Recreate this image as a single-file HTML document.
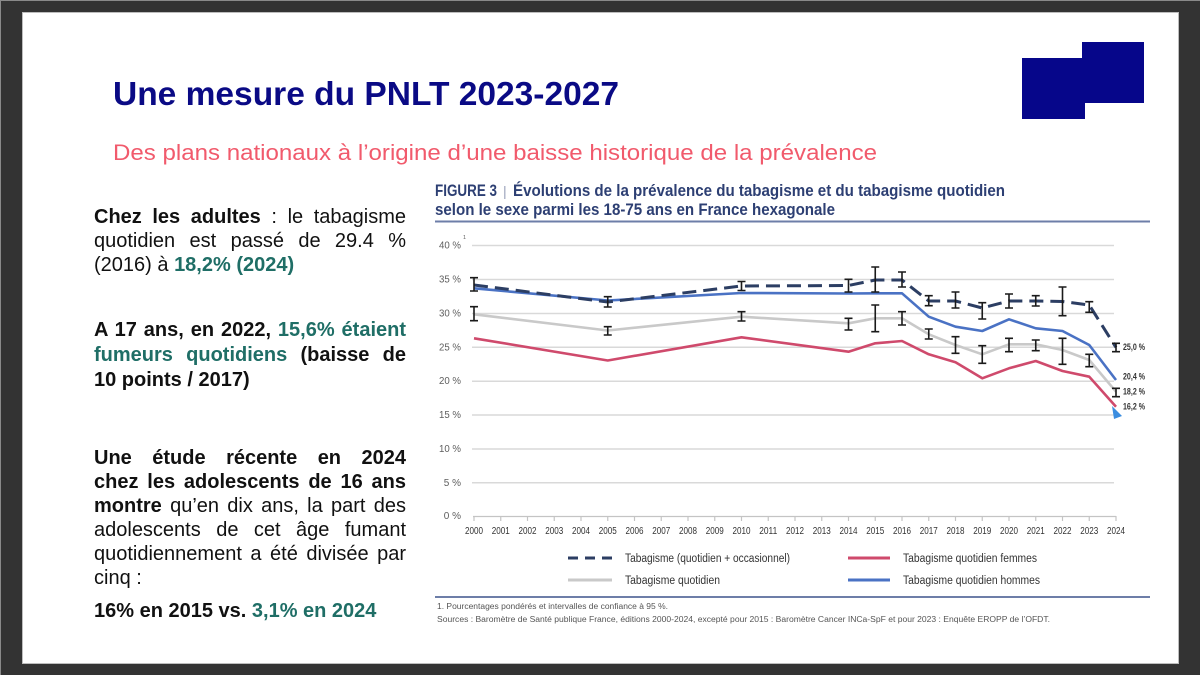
<!DOCTYPE html>
<html><head><meta charset="utf-8"><style>
html,body{margin:0;padding:0;}
body{width:1200px;height:675px;background:#333333;position:relative;overflow:hidden;font-family:"Liberation Sans",Arial,sans-serif;}
.slide{position:absolute;left:23px;top:13px;width:1155px;height:650px;background:#fff;box-shadow:0 0 0 1px #bdbdbd;}
.ln{position:absolute;left:94px;width:312px;font-size:20px;line-height:24px;color:#111;white-space:nowrap;}
.j{text-align:justify;text-align-last:justify;white-space:normal;}
b{font-weight:bold;}
.t{color:#1f6e66;font-weight:bold;}
svg{position:absolute;left:0;top:0;}
</style></head><body>
<div class="slide"></div>
<svg width="1200" height="675" viewBox="0 0 1200 675" xmlns="http://www.w3.org/2000/svg" font-family="Liberation Sans, Arial, sans-serif">
<line x1="0" y1="0.5" x2="1200" y2="0.5" stroke="#8a8a8a" stroke-width="1"/>
<line x1="0.5" y1="0" x2="0.5" y2="675" stroke="#8a8a8a" stroke-width="1"/>
<!-- logo -->
<rect x="1022" y="58" width="63" height="61" fill="#06068a"/>
<rect x="1082" y="42" width="62" height="61" fill="#06068a"/>
<!-- title -->
<text x="113" y="105" font-size="33.5" font-weight="bold" fill="#0a0a85" textLength="506" lengthAdjust="spacingAndGlyphs">Une mesure du PNLT 2023-2027</text>
<text x="113" y="160" font-size="22" fill="#f15a6c" textLength="764" lengthAdjust="spacingAndGlyphs">Des plans nationaux à l’origine d’une baisse historique de la prévalence</text>

<!-- chart title -->
<text x="435" y="196" font-size="16.5" font-weight="bold" fill="#2d3f73" textLength="62" lengthAdjust="spacingAndGlyphs">FIGURE 3</text>
<text x="503" y="196" font-size="14" fill="#9aa3bb">|</text>
<text x="513" y="196" font-size="16.5" font-weight="bold" fill="#2d3f73" textLength="492" lengthAdjust="spacingAndGlyphs">Évolutions de la prévalence du tabagisme et du tabagisme quotidien</text>
<text x="435" y="215" font-size="16.5" font-weight="bold" fill="#2d3f73" textLength="400" lengthAdjust="spacingAndGlyphs">selon le sexe parmi les 18-75 ans en France hexagonale</text>
<line x1="435" y1="221.5" x2="1150" y2="221.5" stroke="#6d7ea8" stroke-width="2"/>

<!-- gridlines -->
<g stroke="#d9d9d9" stroke-width="1.5">
<line x1="472" y1="245.5" x2="1114" y2="245.5"/>
<line x1="472" y1="279.5" x2="1114" y2="279.5"/>
<line x1="472" y1="313.5" x2="1114" y2="313.5"/>
<line x1="472" y1="347.3" x2="1114" y2="347.3"/>
<line x1="472" y1="381.2" x2="1114" y2="381.2"/>
<line x1="472" y1="415" x2="1114" y2="415"/>
<line x1="472" y1="449" x2="1114" y2="449"/>
<line x1="472" y1="482.8" x2="1114" y2="482.8"/>
</g>
<!-- x axis -->
<g stroke="#c4c4c4" stroke-width="1.2">
<line x1="473" y1="516.5" x2="1116" y2="516.5"/>
<line x1="474" y1="516" x2="474" y2="521"/><line x1="500.75" y1="516" x2="500.75" y2="521"/><line x1="527.5" y1="516" x2="527.5" y2="521"/><line x1="554.25" y1="516" x2="554.25" y2="521"/><line x1="581" y1="516" x2="581" y2="521"/><line x1="607.75" y1="516" x2="607.75" y2="521"/><line x1="634.5" y1="516" x2="634.5" y2="521"/><line x1="661.25" y1="516" x2="661.25" y2="521"/><line x1="688" y1="516" x2="688" y2="521"/><line x1="714.75" y1="516" x2="714.75" y2="521"/><line x1="741.5" y1="516" x2="741.5" y2="521"/><line x1="768.25" y1="516" x2="768.25" y2="521"/><line x1="795" y1="516" x2="795" y2="521"/><line x1="821.75" y1="516" x2="821.75" y2="521"/><line x1="848.5" y1="516" x2="848.5" y2="521"/><line x1="875.25" y1="516" x2="875.25" y2="521"/><line x1="902" y1="516" x2="902" y2="521"/><line x1="928.75" y1="516" x2="928.75" y2="521"/><line x1="955.5" y1="516" x2="955.5" y2="521"/><line x1="982.25" y1="516" x2="982.25" y2="521"/><line x1="1009" y1="516" x2="1009" y2="521"/><line x1="1035.75" y1="516" x2="1035.75" y2="521"/><line x1="1062.5" y1="516" x2="1062.5" y2="521"/><line x1="1089.25" y1="516" x2="1089.25" y2="521"/><line x1="1116" y1="516" x2="1116" y2="521"/>
</g>
<!-- y labels -->
<g font-size="10" fill="#5e5e5e" text-anchor="end">
<text x="461" y="248.5" textLength="22" lengthAdjust="spacingAndGlyphs">40 %</text>
<text x="461" y="282.5" textLength="22" lengthAdjust="spacingAndGlyphs">35 %</text>
<text x="461" y="316.5" textLength="22" lengthAdjust="spacingAndGlyphs">30 %</text>
<text x="461" y="350.3" textLength="22" lengthAdjust="spacingAndGlyphs">25 %</text>
<text x="461" y="384.2" textLength="22" lengthAdjust="spacingAndGlyphs">20 %</text>
<text x="461" y="418" textLength="22" lengthAdjust="spacingAndGlyphs">15 %</text>
<text x="461" y="452" textLength="22" lengthAdjust="spacingAndGlyphs">10 %</text>
<text x="461" y="485.8">5 %</text>
<text x="461" y="519">0 %</text>
</g>
<text x="463" y="239" font-size="5.5" fill="#5e5e5e">1</text>
<!-- x labels -->
<g font-size="10" fill="#333" text-anchor="middle">
<text x="474" y="534" textLength="18" lengthAdjust="spacingAndGlyphs">2000</text><text x="500.75" y="534" textLength="18" lengthAdjust="spacingAndGlyphs">2001</text><text x="527.5" y="534" textLength="18" lengthAdjust="spacingAndGlyphs">2002</text><text x="554.25" y="534" textLength="18" lengthAdjust="spacingAndGlyphs">2003</text><text x="581" y="534" textLength="18" lengthAdjust="spacingAndGlyphs">2004</text><text x="607.75" y="534" textLength="18" lengthAdjust="spacingAndGlyphs">2005</text><text x="634.5" y="534" textLength="18" lengthAdjust="spacingAndGlyphs">2006</text><text x="661.25" y="534" textLength="18" lengthAdjust="spacingAndGlyphs">2007</text><text x="688" y="534" textLength="18" lengthAdjust="spacingAndGlyphs">2008</text><text x="714.75" y="534" textLength="18" lengthAdjust="spacingAndGlyphs">2009</text><text x="741.5" y="534" textLength="18" lengthAdjust="spacingAndGlyphs">2010</text><text x="768.25" y="534" textLength="18" lengthAdjust="spacingAndGlyphs">2011</text><text x="795" y="534" textLength="18" lengthAdjust="spacingAndGlyphs">2012</text><text x="821.75" y="534" textLength="18" lengthAdjust="spacingAndGlyphs">2013</text><text x="848.5" y="534" textLength="18" lengthAdjust="spacingAndGlyphs">2014</text><text x="875.25" y="534" textLength="18" lengthAdjust="spacingAndGlyphs">2015</text><text x="902" y="534" textLength="18" lengthAdjust="spacingAndGlyphs">2016</text><text x="928.75" y="534" textLength="18" lengthAdjust="spacingAndGlyphs">2017</text><text x="955.5" y="534" textLength="18" lengthAdjust="spacingAndGlyphs">2018</text><text x="982.25" y="534" textLength="18" lengthAdjust="spacingAndGlyphs">2019</text><text x="1009" y="534" textLength="18" lengthAdjust="spacingAndGlyphs">2020</text><text x="1035.75" y="534" textLength="18" lengthAdjust="spacingAndGlyphs">2021</text><text x="1062.5" y="534" textLength="18" lengthAdjust="spacingAndGlyphs">2022</text><text x="1089.25" y="534" textLength="18" lengthAdjust="spacingAndGlyphs">2023</text><text x="1116" y="534" textLength="18" lengthAdjust="spacingAndGlyphs">2024</text>
</g>

<!-- series -->
<g fill="none" stroke-linejoin="round" stroke-width="2.6">
<polyline stroke="#c9c9c9" points="474,314.3 607.75,330.5 741.5,316.7 848.5,323.3 875.25,318.3 902,318.3 928.75,334.3 955.5,345 982.25,354.3 1009,344.3 1035.75,344.3 1062.5,350 1089.25,360 1116,391.7"/>
<polyline stroke="#cf4a6c" points="474,338.3 607.75,360.5 741.5,337.3 848.5,351.7 875.25,343.3 902,341 928.75,354.3 955.5,362.3 982.25,378.3 1009,368.3 1035.75,361 1062.5,371 1089.25,376.7 1116,406.7"/>
<polyline stroke="#4a72c4" points="474,288.3 607.75,300.5 741.5,293 848.5,293.5 875.25,293.3 902,293.3 928.75,316.7 955.5,326.7 982.25,331 1009,319.3 1035.75,328.3 1062.5,331 1089.25,345 1116,380"/>
<polyline stroke="#2c3e63" stroke-width="3" stroke-dasharray="14 7" points="474,285 607.75,302 741.5,286 848.5,285.5 875.25,280 902,280 928.75,301 955.5,301 982.25,308 1009,301 1035.75,301 1062.5,301.5 1089.25,305 1116,347.5"/>
</g>

<!-- error bars -->
<g stroke="#1a1a1a" stroke-width="1.6" fill="none">
<path d="M474 277.7V291M470 277.7H478M470 291H478"/>
<path d="M607.75 296.7V307M603.75 296.7H611.75M603.75 307H611.75"/>
<path d="M741.5 281.5V290.5M737.5 281.5H745.5M737.5 290.5H745.5"/>
<path d="M848.5 279.3V292M844.5 279.3H852.5M844.5 292H852.5"/>
<path d="M875.25 267V292M871.25 267H879.25M871.25 292H879.25"/>
<path d="M902 272V287M898 272H906M898 287H906"/>
<path d="M928.75 295.7V305.7M924.75 295.7H932.75M924.75 305.7H932.75"/>
<path d="M955.5 292V308M951.5 292H959.5M951.5 308H959.5"/>
<path d="M982.25 302.7V319M978.25 302.7H986.25M978.25 319H986.25"/>
<path d="M1009 294V308M1005 294H1013M1005 308H1013"/>
<path d="M1035.75 295.7V306M1031.75 295.7H1039.75M1031.75 306H1039.75"/>
<path d="M1062.5 287V315.7M1058.5 287H1066.5M1058.5 315.7H1066.5"/>
<path d="M1089.25 301.7V312.3M1085.25 301.7H1093.25M1085.25 312.3H1093.25"/>
<path d="M1116 343.3V351.7M1112 343.3H1120M1112 351.7H1120"/>
<path d="M474 306.7V320.7M470 306.7H478M470 320.7H478"/>
<path d="M607.75 326.7V335M603.75 326.7H611.75M603.75 335H611.75"/>
<path d="M741.5 311.7V321M737.5 311.7H745.5M737.5 321H745.5"/>
<path d="M848.5 318.3V330M844.5 318.3H852.5M844.5 330H852.5"/>
<path d="M875.25 305V331.7M871.25 305H879.25M871.25 331.7H879.25"/>
<path d="M902 311.7V325M898 311.7H906M898 325H906"/>
<path d="M928.75 329V339M924.75 329H932.75M924.75 339H932.75"/>
<path d="M955.5 336.7V353.3M951.5 336.7H959.5M951.5 353.3H959.5"/>
<path d="M982.25 345.7V363.3M978.25 345.7H986.25M978.25 363.3H986.25"/>
<path d="M1009 338.3V351.7M1005 338.3H1013M1005 351.7H1013"/>
<path d="M1035.75 340V350.7M1031.75 340H1039.75M1031.75 350.7H1039.75"/>
<path d="M1062.5 338.3V364.3M1058.5 338.3H1066.5M1058.5 364.3H1066.5"/>
<path d="M1089.25 354.3V366.7M1085.25 354.3H1093.25M1085.25 366.7H1093.25"/>
<path d="M1116 388.3V396.7M1112 388.3H1120M1112 396.7H1120"/>
</g>

<!-- end labels -->
<g font-size="9" font-weight="bold" fill="#333">
<text x="1123" y="350" textLength="22" lengthAdjust="spacingAndGlyphs">25,0 %</text>
<text x="1123" y="379.5" textLength="22" lengthAdjust="spacingAndGlyphs">20,4 %</text>
<text x="1123" y="394.5" textLength="22" lengthAdjust="spacingAndGlyphs">18,2 %</text>
<text x="1123" y="409.5" textLength="22" lengthAdjust="spacingAndGlyphs">16,2 %</text>
</g>
<polygon points="1112,406 1122,416 1114,419" fill="#3b8de0"/>

<!-- legend -->
<g stroke-width="3">
<line x1="568" y1="558" x2="612" y2="558" stroke="#2c3e63" stroke-dasharray="10 7"/>
<line x1="848" y1="558" x2="890" y2="558" stroke="#cf4a6c"/>
<line x1="568" y1="580" x2="612" y2="580" stroke="#c9c9c9"/>
<line x1="848" y1="580" x2="890" y2="580" stroke="#4a72c4"/>
</g>
<g font-size="11.5" fill="#333">
<text x="625" y="562" textLength="165" lengthAdjust="spacingAndGlyphs">Tabagisme (quotidien + occasionnel)</text>
<text x="903" y="562" textLength="134" lengthAdjust="spacingAndGlyphs">Tabagisme quotidien femmes</text>
<text x="625" y="584" textLength="95" lengthAdjust="spacingAndGlyphs">Tabagisme quotidien</text>
<text x="903" y="584" textLength="137" lengthAdjust="spacingAndGlyphs">Tabagisme quotidien hommes</text>
</g>
<line x1="435" y1="597" x2="1150" y2="597" stroke="#6d7ea8" stroke-width="2"/>
<g font-size="8" fill="#555">
<text x="437" y="609" textLength="231" lengthAdjust="spacingAndGlyphs">1. Pourcentages pondérés et intervalles de confiance à 95 %.</text>
<text x="437" y="622" textLength="613" lengthAdjust="spacingAndGlyphs">Sources : Baromètre de Santé publique France, éditions 2000-2024, excepté pour 2015 : Baromètre Cancer INCa-SpF et pour 2023 : Enquête EROPP de l’OFDT.</text>
</g>
</svg>

<!-- left text -->
<div class="ln j" style="top:205px"><b>Chez les adultes</b> : le tabagisme</div>
<div class="ln j" style="top:229px">quotidien est passé de 29.4 %</div>
<div class="ln" style="top:253px">(2016) à <span class="t">18,2% (2024)</span></div>

<div class="ln j" style="top:318px"><b>A 17 ans, en 2022, </b><span class="t">15,6% étaient</span></div>
<div class="ln j" style="top:343px"><span class="t">fumeurs quotidiens</span> <b>(baisse de</b></div>
<div class="ln" style="top:368px"><b>10 points / 2017)</b></div>

<div class="ln j" style="top:446px"><b>Une étude récente en 2024</b></div>
<div class="ln j" style="top:470px"><b>chez les adolescents de 16 ans</b></div>
<div class="ln j" style="top:494px"><b>montre</b> qu’en dix ans, la part des</div>
<div class="ln j" style="top:518px">adolescents de cet âge fumant</div>
<div class="ln j" style="top:542px">quotidiennement a été divisée par</div>
<div class="ln" style="top:566px">cinq :</div>

<div class="ln" style="top:599px"><b>16% en 2015 vs. </b><span class="t">3,1% en 2024</span></div>
</body></html>
